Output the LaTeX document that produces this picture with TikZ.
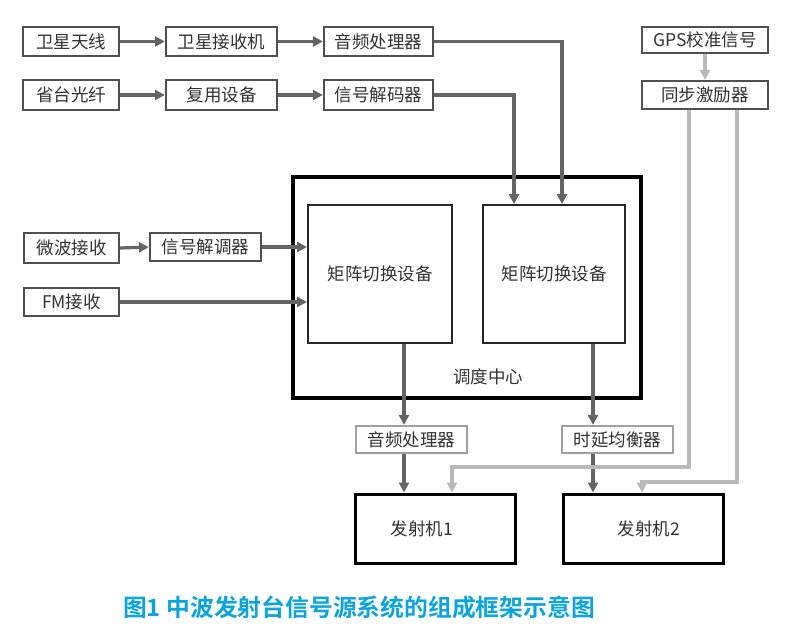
\documentclass[tikz,border=0pt]{standalone}
\usepackage{fontspec}
\setmainfont{Noto Sans CJK SC}
\newfontfamily\capfont{Noto Sans CJK SC Bold}
\usetikzlibrary{arrows.meta}
\definecolor{boxline}{RGB}{80,80,80}
\definecolor{darkarr}{RGB}{100,100,100}
\definecolor{lightarr}{RGB}{185,185,185}
\definecolor{lightbox}{RGB}{160,160,160}
\definecolor{txt}{RGB}{50,50,50}
\definecolor{capcol}{RGB}{10,165,225}
\tikzset{
  box/.style={draw=boxline, line width=2.2pt, fill=white, text=txt, font=\fontsize{17.5}{19}\selectfont, inner sep=0pt},
  lbox/.style={box, draw=lightbox},
  bigbox/.style={draw=black, line width=3.4pt, inner sep=0pt},
  midbox/.style={draw=black!85, line width=2pt, inner sep=0pt, text=txt, font=\fontsize{17.5}{19}\selectfont},
  darr/.style={draw=darkarr, line width=3.2pt, -{Triangle[length=10pt,width=10pt]}},
  larr/.style={draw=lightarr, line width=3.2pt, -{Triangle[length=10pt,width=10pt]}},
}
\begin{document}
\begin{tikzpicture}[x=1pt,y=-1pt]
\useasboundingbox (0,0) rectangle (800,642);
% outer dispatch centre box
\node[bigbox, minimum width=348, minimum height=221] (ddzx) at (467,287.5) {};
\node[midbox, minimum width=144, minimum height=138] (sw1) at (380,274) {矩阵切换设备};
\node[midbox, minimum width=142, minimum height=138] (sw2) at (554,274) {矩阵切换设备};
\node[text=txt, font=\fontsize{17.5}{19}\selectfont] (ddlbl) at (488,377) {调度中心};
% row 1
\node[box, minimum width=96, minimum height=29] (wxtx) at (71,41.5) {卫星天线};
\node[box, minimum width=111, minimum height=29] (wxjs) at (221.5,41.5) {卫星接收机};
\node[box, minimum width=109, minimum height=29] (ypcl) at (378.5,41.5) {音频处理器};
% row 2
\node[box, minimum width=96, minimum height=30] (stgx) at (71,95) {省台光纤};
\node[box, minimum width=111, minimum height=30] (fysb) at (221.5,95) {复用设备};
\node[box, minimum width=109, minimum height=30] (xhjm) at (378.5,95) {信号解码器};
% GPS
\node[box, minimum width=126, minimum height=26] (gps) at (705,40) {GPS校准信号};
\node[box, minimum width=126, minimum height=28] (tbjl) at (705,95) {同步激励器};
% left inputs
\node[box, minimum width=95, minimum height=30] (wbjs) at (71.5,248) {微波接收};
\node[box, minimum width=111, minimum height=28] (xhjt) at (205.5,247) {信号解调器};
\node[box, minimum width=95, minimum height=28] (fmjs) at (71.5,302) {FM接收\hspace{10pt}};
% bottom
\node[lbox, minimum width=111, minimum height=27] (yp2) at (411.5,439.5) {音频处理器};
\node[lbox, minimum width=111, minimum height=27] (sy) at (617.5,439.5) {时延均衡器};
\node[bigbox, line width=3pt, minimum width=160, minimum height=69, text=txt, font=\fontsize{17.5}{19}\selectfont] (fs1) at (435,528.5) {\hspace{-26pt}发射机1};
\node[bigbox, line width=3pt, minimum width=160, minimum height=69, text=txt, font=\fontsize{17.5}{19}\selectfont] (fs2) at (643,528.5) {\hspace{12pt}发射机2};
% caption
\node[text=capcol, font=\capfont\fontsize{23.8}{26}\selectfont] (cap) at (359,607) {图1 中波发射台信号源系统的组成框架示意图};
% helper coordinates
\coordinate (c1) at (562,0);
\coordinate (c2) at (514,0);
\coordinate (c3) at (404,0);
\coordinate (c4) at (593,0);
\coordinate (c5) at (689,0);
\coordinate (c6) at (452,0);
\coordinate (c7) at (737,0);
\coordinate (c8) at (642,0);
\coordinate (k1) at (689,467);
\coordinate (k2) at (737,482);
% connectors
\draw[darr] (wxtx.east) -- (wxjs.west);
\draw[darr] (wxjs.east) -- (ypcl.west);
\draw[darr] (stgx.east) -- (fysb.west);
\draw[darr] (fysb.east) -- (xhjm.west);
\draw[darr] (ypcl.east) -| (c1 |- sw2.north);
\draw[darr] (xhjm.east) -| (c2 |- sw2.north);
\draw[darr] (wbjs.east) -- (xhjt.west);
\draw[darr] (xhjt.east) -- (xhjt.east -| sw1.west);
\draw[darr] (fmjs.east) -- (fmjs.east -| sw1.west);
\draw[darr] (c3 |- sw1.south) -- (c3 |- yp2.north);
\draw[darr] (c4 |- sw2.south) -- (c4 |- sy.north);
\draw[darr] (c3 |- yp2.south) -- (c3 |- fs1.north);
\draw[darr] (c4 |- sy.south) -- (c4 |- fs2.north);
\draw[larr] (gps.south) -- (tbjl.north);
\draw[larr] (c5 |- tbjl.south) -- (k1) -| (c6 |- fs1.north);
\draw[larr] (c7 |- tbjl.south) -- (k2) -| (c8 |- fs2.north);
\end{tikzpicture}
\end{document}
